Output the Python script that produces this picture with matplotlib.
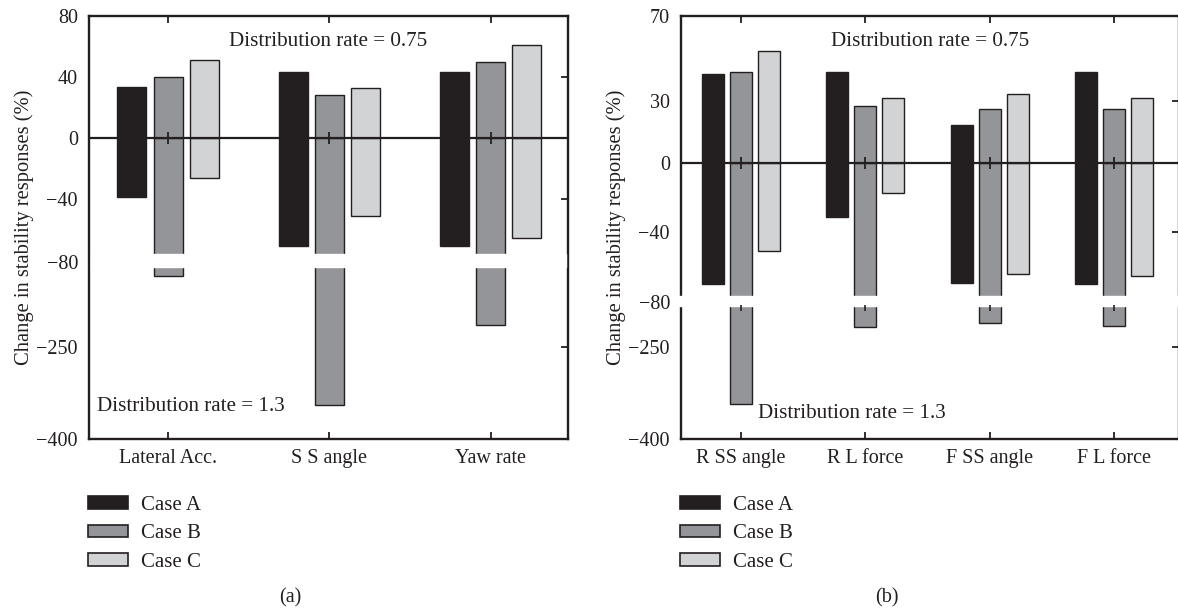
import numpy as np
import matplotlib
matplotlib.use("Agg")
import matplotlib.pyplot as plt
from matplotlib.patches import Patch

plt.rcParams['font.family'] = ['Liberation Serif', 'DejaVu Serif']
plt.rcParams['font.size'] = 14

# panel (a) data: upper bars are rate 0.75, lower bars are rate 1.3
cats_a = ['Lateral Acc.', 'S S angle', 'Yaw rate']
a_up = {'A': [33.4, 43.4, 43.4], 'B': [40.1, 28.2, 50.1], 'C': [50.9, 33.0, 61.1]}
a_dn = {'A': [-38.6, -70.0, -70.0], 'B': [-108, -345, -206], 'C': [-26.0, -50.5, -64.6]}
ticks_a = [-400, -250, -80, -40, 0, 40, 80]
hpix_a = [0, 92, 177, 240, 301, 362, 423]      # tick heights above bottom spine (px)

# panel (b) data
cats_b = ['R SS angle', 'R L force', 'F SS angle', 'F L force']
b_up = {'A': [42.7, 43.6, 18.3, 43.7], 'B': [43.6, 27.4, 26.2, 26.2], 'C': [53.6, 31.3, 33.4, 31.3]}
b_dn = {'A': [-70.0, -31.5, -69.1, -70.0], 'B': [-343.6, -174, -161.6, -171.4], 'C': [-51.0, -17.4, -64.2, -65.1]}
ticks_b = [-400, -250, -80, -40, 0, 30, 70]
hpix_b = [0, 92.3, 137.3, 207.3, 276.3, 338, 423]

cases = ['A', 'B', 'C']
colors = {'A': '#231f20', 'B': '#939598', 'C': '#d1d3d4'}
dark = '#231f20'

W, H = 1178, 610
fig = plt.figure(figsize=(W / 100, H / 100), dpi=100)


def make_scale(vals, hs):
    vals = np.asarray(vals, float)
    hs = np.asarray(hs, float)
    # extend knots so that the mapping extrapolates linearly
    s0 = (hs[1] - hs[0]) / (vals[1] - vals[0])
    s1 = (hs[-1] - hs[-2]) / (vals[-1] - vals[-2])
    v = np.concatenate([[vals[0] - 1e5], vals, [vals[-1] + 1e5]])
    h = np.concatenate([[hs[0] - 1e5 * s0], hs, [hs[-1] + 1e5 * s1]])
    fwd = lambda x: np.interp(x, v, h)
    inv = lambda y: np.interp(y, h, v)
    return fwd, inv


def panel(ax, cats, up, dn, ticks, hpix, xlim, brk, full_break, txt_hi, txt_lo):
    fwd, inv = make_scale(ticks, hpix)
    ax.set_yscale('function', functions=(fwd, inv))
    x = np.arange(len(cats))
    w, off = 0.18, 0.225
    for i, c in enumerate(cases):
        ec = colors[c] if c == 'A' else dark
        ax.bar(x + (i - 1) * off, up[c], w, color=colors[c], edgecolor=ec, lw=1.0, zorder=2)
        ax.bar(x + (i - 1) * off, dn[c], w, color=colors[c], edgecolor=ec, lw=1.0, zorder=2)
    # axis break band
    if full_break:
        ax.axhspan(brk[0], brk[1], xmin=-0.012, xmax=1.012, color='white', zorder=3, clip_on=False)
        ax.plot(x, [brk[0] - 8] * len(x), ls='none', marker='|', ms=4, mew=1.2, color=dark, zorder=4)
    else:
        ax.axhspan(brk[0], brk[1], xmin=0.004, xmax=0.996, color='white', zorder=3)
    ax.axhline(0, color=dark, lw=1.6, zorder=4)
    ax.plot(x, np.zeros(len(x)), ls='none', marker='|', ms=8, mew=1.3, color=dark, zorder=5)

    ax.set_ylim(ticks[0], ticks[-1])
    ax.set_xlim(*xlim)
    ax.set_yticks(ticks)
    ax.set_yticklabels([str(t).replace('-', '\u2212') for t in ticks])
    ax.set_xticks(x)
    ax.set_xticklabels(cats)
    ax.tick_params(axis='y', left=False, right=True, direction='in', length=5, width=1.3,
                   pad=8, colors=dark, labelsize=14.5)
    ax.tick_params(axis='x', top=True, bottom=True, direction='in', length=5, width=1.3,
                   pad=7, colors=dark, labelsize=14.5)
    for s in ax.spines.values():
        s.set_linewidth(1.7)
        s.set_color(dark)
    ax.set_ylabel('Change in stability responses (%)', fontsize=14.8, color=dark, labelpad=2)
    ax.text(txt_hi[0], txt_hi[1], 'Distribution rate = 0.75', transform=ax.transAxes,
            ha='center', va='center', fontsize=15.2, color=dark, zorder=6)
    ax.text(txt_lo[0], txt_lo[1], 'Distribution rate = 1.3', transform=ax.transAxes,
            ha='center', va='center', fontsize=15.2, color=dark, zorder=6)


ax_a = fig.add_axes([89 / W, (H - 439) / H, (568 - 89) / W, 423 / H])
panel(ax_a, cats_a, a_up, a_dn, ticks_a, hpix_a, (-0.49, 2.48), (-90, -75), False,
      (0.5, 0.939), (0.213, 0.076))
ax_b = fig.add_axes([681 / W, (H - 439) / H, (1179 - 681) / W, 423 / H])
panel(ax_b, cats_b, b_up, b_dn, ticks_b, hpix_b, (-0.48, 3.52), (-96, -77), True,
      (0.5, 0.939), (0.343, 0.061))

handles = [Patch(facecolor=colors[c], edgecolor=colors[c] if c == 'A' else dark, lw=1.2) for c in cases]
labels = ['Case ' + c for c in cases]
for lx, tag, tx in [(88, '(a)', 290), (680, '(b)', 887)]:
    fig.legend(handles, labels, loc='upper left', bbox_to_anchor=(lx / W, 1 - 496 / H),
               frameon=False, borderpad=0, borderaxespad=0, handlelength=1.9, handleheight=0.55,
               handletextpad=0.65, labelspacing=0.45, fontsize=15, labelcolor=dark)
    fig.text(tx / W, 1 - 598 / H, tag, ha='center', va='center', fontsize=14.5, color=dark)

fig.savefig('out.png', dpi=100)
